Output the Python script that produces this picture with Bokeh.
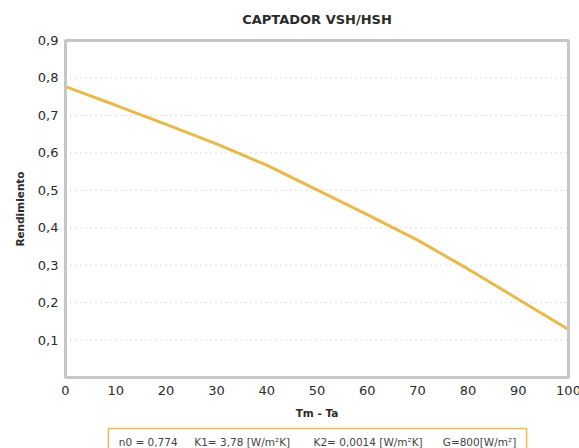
from bokeh.plotting import figure
from bokeh.models import Range1d, Label
from bokeh.core.properties import value
from bokeh.embed import file_html
from bokeh.resources import INLINE

# data
temp_diff = [0, 10, 20, 30, 40, 50, 60, 70, 80, 90, 100]
efficiency = [0.777, 0.727, 0.676, 0.624, 0.567, 0.501, 0.435, 0.367, 0.290, 0.209, 0.128]
x_ticks = [0, 10, 20, 30, 40, 50, 60, 70, 80, 90, 100]
x_tick_labels = ["0", "10", "20", "30", "40", "50", "60", "70", "80", "90", "100"]
y_ticks = [0.1, 0.2, 0.3, 0.4, 0.5, 0.6, 0.7, 0.8, 0.9]
y_tick_labels = ["0,1", "0,2", "0,3", "0,4", "0,5", "0,6", "0,7", "0,8", "0,9"]
title_text = "CAPTADOR VSH/HSH"
x_title = "Tm - Ta"
y_title = "Rendimiento"
legend_parts = ["n0 = 0,774", "K1= 3,78 [W/m\u00b2K]", "K2= 0,0014 [W/m\u00b2K]", "G=800[W/m\u00b2]"]

FONT = "DejaVu Sans"
TEXT = "#2b2b2b"
GOLD = "#e8b94b"
FRAME = "#c4c7c5"

X_MIN, X_MAX = 0, 100
Y_MIN, Y_MAX = 0, 0.9

# page layout (pixels): the plot box sits at these edges of the 579x448 canvas
W, H = 579, 448
BOX_L, BOX_R, BOX_T, BOX_B = 65, 568, 40, 377
sx = (BOX_R - BOX_L) / (X_MAX - X_MIN)
sy = (BOX_B - BOX_T) / (Y_MAX - Y_MIN)
x_range = Range1d(X_MIN - BOX_L / sx, X_MAX + (W - BOX_R) / sx)
y_range = Range1d(Y_MIN - (H - BOX_B) / sy, Y_MAX + BOX_T / sy)


def px_x(px):
    return X_MIN + (px - BOX_L) / sx


def px_y(py):
    return Y_MIN + (BOX_B - py) / sy


p = figure(width=W, height=H, output_backend="svg", toolbar_location=None,
           x_range=x_range, y_range=y_range,
           x_axis_location=None, y_axis_location=None,
           min_border_left=0, min_border_right=0, min_border_top=0, min_border_bottom=0)
p.outline_line_color = None
p.background_fill_color = "white"
p.border_fill_color = "white"
p.xgrid.grid_line_color = None
p.ygrid.grid_line_color = None

# dotted horizontal grid within the plot box
p.multi_line(xs=[[X_MIN, X_MAX] for _ in y_ticks], ys=[[t, t] for t in y_ticks],
             line_color="#bdbdbd", line_dash="1 4", line_width=1)

p.line(temp_diff, efficiency, line_color=GOLD, line_width=3)

# plot box border
p.quad(left=[X_MIN], right=[X_MAX], bottom=[Y_MIN], top=[Y_MAX],
       fill_color=None, line_color=FRAME, line_width=3)

# tick labels
p.text(x=[X_MIN] * len(y_ticks), y=y_ticks, text=y_tick_labels, x_offset=-7,
       text_align="right", text_baseline="middle",
       text_font=value(FONT), text_font_size="13px", text_color=TEXT)
p.text(x=x_ticks, y=[Y_MIN] * len(x_ticks), text=x_tick_labels, y_offset=13,
       text_align="center", text_baseline="middle",
       text_font=value(FONT), text_font_size="13px", text_color=TEXT)

# titles
p.add_layout(Label(x=(X_MIN + X_MAX) / 2, y=px_y(19), text=title_text,
                   text_align="center", text_baseline="middle",
                   text_font=FONT, text_font_size="13px", text_font_style="bold",
                   text_color=TEXT))
p.add_layout(Label(x=(X_MIN + X_MAX) / 2, y=px_y(412), text=x_title,
                   text_align="center", text_baseline="middle",
                   text_font=FONT, text_font_size="10.5px", text_font_style="bold",
                   text_color=TEXT))
p.add_layout(Label(x=px_x(19), y=(Y_MIN + Y_MAX) / 2, text=y_title, angle=90, angle_units="deg",
                   text_align="center", text_baseline="middle",
                   text_font=FONT, text_font_size="10.5px", text_font_style="bold",
                   text_color=TEXT))

# parameter box under the chart
nb = "\u00a0"
legend_text = (nb + legend_parts[0] + nb * 5 + legend_parts[1] + nb * 7 +
               legend_parts[2] + nb * 6 + legend_parts[3] + nb)
p.add_layout(Label(x=px_x(317), y=px_y(441), text=legend_text,
                   text_align="center", text_baseline="middle",
                   text_font=FONT, text_font_size="10.5px", text_color="#444444",
                   border_line_color="#edbd4a", border_line_width=1.5,
                   background_fill_color="white", padding=7))

open("out.html", "w").write(file_html(p, INLINE))
